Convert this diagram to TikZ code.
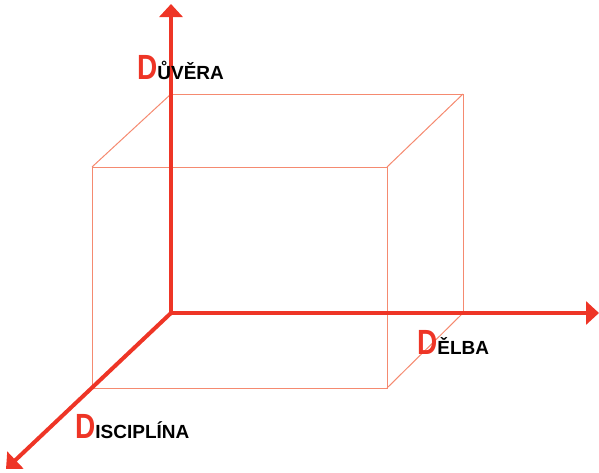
\documentclass[tikz,border=0pt]{standalone}
\usepackage{fontspec}
\setmainfont{Liberation Sans}
\usetikzlibrary{arrows.meta}
\definecolor{axred}{HTML}{EE3526}
\definecolor{cubered}{HTML}{F58A70}
\tikzset{
  axis/.style={draw=axred, line width=4pt, -{Triangle[width=23pt,length=13pt]}},
  edge/.style={draw=cubered, line width=1pt},
  lab/.style={anchor=base west, inner sep=0pt, font=\bfseries},
}
\newcommand{\bigD}{{\color{axred}\fontsize{35}{35}\selectfont\scalebox{0.8}[1]{D}}}
\begin{document}
\begin{tikzpicture}[x=1pt,y=-1pt]
\useasboundingbox (0,0) rectangle (599,472);
% cube corners
\coordinate (O) at (171,313);
\coordinate (BT) at (171,94);
\coordinate (BTR) at (463,94);
\coordinate (BBR) at (463,313);
\coordinate (FTL) at (92,167);
\coordinate (FTR) at (387,167);
\coordinate (FBL) at (92,388);
\coordinate (FBR) at (387,388);
\coordinate (TY) at (171,4);
\coordinate (TX) at (599,313);
\coordinate (TZ) at (6,469);
% cube
\draw[edge] (BT) -- (BTR) -- (BBR);
\draw[edge] (FTL) -- (FTR) -- (FBR) -- (FBL) -- cycle;
\draw[edge] (BT) -- (FTL);
\draw[edge] (BTR) -- (FTR);
\draw[edge] (BBR) -- (FBR);
% axes
\draw[axis] (O) -- (TY);
\draw[axis] (O) -- (TX);
\draw[axis] (O) -- (TZ);
% labels
\node[lab] (duv) at (137,79) {\bigD\fontsize{19}{19}\selectfont ŮVĚRA};
\node[lab] (del) at (417,354) {\bigD\fontsize{19}{19}\selectfont ĚLBA};
\node[lab] (dis) at (75,438) {\bigD\fontsize{19}{19}\selectfont ISCIPLÍNA};
\end{tikzpicture}
\end{document}
